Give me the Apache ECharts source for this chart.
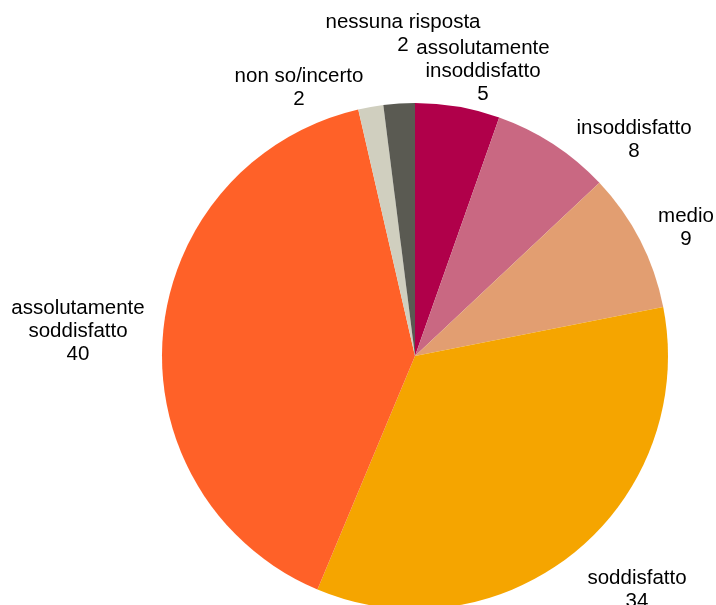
<!DOCTYPE html>
<html>
<head>
<meta charset="utf-8">
<script src="https://cdn.jsdelivr.net/npm/echarts@6/dist/echarts.min.js"></script>
<style>html,body{margin:0;padding:0;background:#fff}#c{width:716px;height:605px}</style>
</head>
<body>
<div id="c"></div>
<script>
var categories = ["assolutamente\ninsoddisfatto", "insoddisfatto", "medio", "soddisfatto", "assolutamente\nsoddisfatto", "non so/incerto", "nessuna risposta"];
var values = [5.4, 7.6, 8.9, 34.4, 40.1, 1.6, 2.0];
var colors = ["#B0004A", "#C96882", "#E29E71", "#F5A500", "#FF6128", "#D0CFBF", "#5A5A52"];
// label block centre offsets relative to the pie centre (layout only)
var labelOffsets = [[68, -285], [219, -216], [271, -128], [222, 234], [-337, -25], [-116, -268], [-12, -322]];

var CX = 415, CY = 356, R = 253;
var chart = echarts.init(document.getElementById('c'), null, {renderer: 'canvas'});
chart.setOption({
  animation: false,
  backgroundColor: '#fff',
  series: [{
    type: 'pie',
    center: [CX, CY],
    radius: [0, R],
    startAngle: 90,
    clockwise: true,
    avoidLabelOverlap: false,
    data: categories.map(function (n, i) {
      return {name: n, value: values[i], itemStyle: {color: colors[i]}};
    }),
    itemStyle: {borderWidth: 0},
    emphasis: {disabled: true},
    label: {
      show: true,
      position: 'outside',
      formatter: function (p) { return p.name + '\n' + Math.round(p.value); },
      fontFamily: 'Liberation Sans, Arial, sans-serif',
      fontSize: 20.5,
      lineHeight: 23,
      color: '#000',
      align: 'center'
    },
    labelLine: {show: false},
    labelLayout: function (p) {
      var o = labelOffsets[p.dataIndex];
      return {x: CX + o[0], y: CY + o[1], align: 'center', verticalAlign: 'middle'};
    }
  }]
});
</script>
</body>
</html>
